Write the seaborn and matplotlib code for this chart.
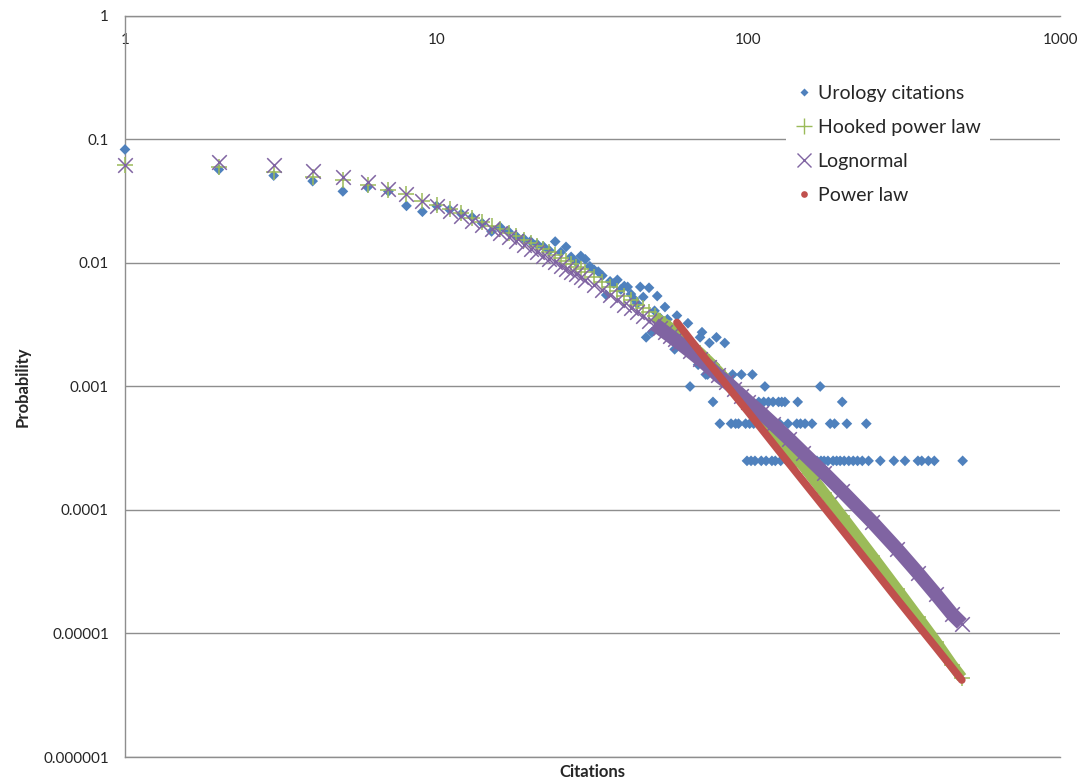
"""Urology citation distribution vs fitted models (log-log)."""

import matplotlib
matplotlib.use('Agg')
import matplotlib.pyplot as plt
import seaborn as sns
import pandas as pd
from matplotlib.lines import Line2D
from matplotlib.ticker import NullLocator

# ---- data ----
URO_X = [1, 2, 3, 4, 5, 6, 7, 8, 9, 10, 11, 12, 13, 14, 15, 16, 17, 18, 19, 20,
         21, 22, 23, 24, 25, 26, 27, 28, 29, 30, 31, 32, 33, 34, 35, 36, 37, 38, 39, 40,
         41, 42, 43, 44, 45, 46, 47, 48, 49, 50, 51, 52, 53, 54, 55, 56, 57, 58, 59, 60,
         62, 63, 64, 65, 66, 67, 68, 69, 70, 71, 72, 73, 74, 75, 77, 78, 79, 81, 82, 84,
         86, 88, 89, 90, 91, 93, 95, 96, 98, 99, 101, 102, 103, 104, 105, 107, 108, 110,
         112, 113, 114, 116, 117, 119, 120, 122, 125, 126, 127, 128, 131, 133, 134, 136,
         140, 143, 144, 145, 147, 149, 152, 153, 157, 160, 161, 166, 170, 171, 175, 180,
         183, 187, 189, 192, 197, 200, 203, 207, 210, 217, 224, 232, 239, 243, 265, 293,
         318, 350, 360, 378, 395, 487]
URO_Y = [0.083, 0.057, 0.051, 0.046, 0.038, 0.041, 0.038, 0.029, 0.026, 0.029,
         0.027, 0.025, 0.0235, 0.021, 0.018, 0.0195, 0.018, 0.0165, 0.0158, 0.015,
         0.0142, 0.0136, 0.0126, 0.0149, 0.0122, 0.0135, 0.0112, 0.0102, 0.0114, 0.0107,
         0.0094, 0.0088, 0.0085, 0.0079, 0.0055, 0.0071, 0.0068, 0.0073, 0.0061, 0.0065,
         0.0064, 0.0056, 0.0051, 0.0047, 0.0064, 0.0053, 0.0025, 0.0063, 0.00275, 0.0041,
         0.0054, 0.0036, 0.0031, 0.0044, 0.0035, 0.003, 0.0028, 0.002, 0.00375, 0.0026,
         0.0024, 0.00225, 0.00325, 0.001, 0.002, 0.00175, 0.00175, 0.0015, 0.0025, 0.00275,
         0.0015, 0.00125, 0.00125, 0.00225, 0.00075, 0.0015, 0.0025, 0.0005, 0.00125, 0.00225,
         0.001, 0.0005, 0.00125, 0.001, 0.0005, 0.0005, 0.00125, 0.00075, 0.0005, 0.00025,
         0.0005, 0.00025, 0.00125, 0.0005, 0.00025, 0.0005, 0.00075, 0.00025,
         0.00075, 0.001, 0.00025, 0.00075, 0.0005, 0.00025, 0.00075, 0.00025, 0.00075, 0.0005,
         0.00025, 0.00075, 0.00075, 0.00025, 0.0005, 0.00025,
         0.00025, 0.0005, 0.00075, 0.00025, 0.0005, 0.00025, 0.0005, 0.00025, 0.00025, 0.0005,
         0.00025, 0.00025, 0.001, 0.00025, 0.00025, 0.00025,
         0.0005, 0.00025, 0.0005, 0.00025, 0.00025, 0.00075, 0.00025, 0.0005, 0.00025, 0.00025,
         0.00025, 0.00025, 0.0005, 0.00025, 0.00025, 0.00025,
         0.00025, 0.00025, 0.00025, 0.00025, 0.00025, 0.00025]

HOOK_X = list(range(1, 31)) + [32, 34, 36, 38, 40, 42, 44, 46, 48, 50, 52, 54, 56, 58, 60,
                               65, 70, 75, 80, 85, 90, 95, 100, 110, 120, 135, 150, 175,
                               200, 250, 300, 350, 400, 450, 484]
HOOK_Y = [0.062, 0.060, 0.055, 0.050, 0.047, 0.043, 0.039, 0.036, 0.032, 0.0296,
          0.0272, 0.0252, 0.0233, 0.0216, 0.0201, 0.0188, 0.0176, 0.0165, 0.0154, 0.0145,
          0.0137, 0.0129, 0.0122, 0.0115, 0.0109, 0.0103, 0.0098, 0.0093, 0.0089, 0.0085,
          0.0077, 0.0070, 0.0064, 0.0059, 0.0054, 0.0050, 0.0046, 0.0043, 0.0040, 0.0037,
          0.0034, 0.0032, 0.0030, 0.0028, 0.0026,
          0.0022, 0.00187, 0.00158, 0.00133, 0.00113, 0.00096, 0.00083, 0.00072, 0.00055,
          0.00043, 0.00030, 0.000228, 0.000138, 8.9e-5, 4.25e-5, 2.3e-5, 1.36e-5, 8.6e-6,
          5.6e-6, 4.4e-6]

LOGN_X = HOOK_X
LOGN_Y = [0.062, 0.066, 0.062, 0.056, 0.050, 0.045, 0.040, 0.036, 0.032, 0.0290,
          0.0263, 0.0240, 0.0220, 0.0203, 0.0188, 0.0174, 0.0161, 0.0150, 0.0140, 0.0130,
          0.0122, 0.0114, 0.0107, 0.0101, 0.0095, 0.0090, 0.0085, 0.0081, 0.0077, 0.0073,
          0.0066, 0.0060, 0.0055, 0.0050, 0.0046, 0.0043, 0.0040, 0.0037, 0.0034, 0.0032,
          0.00297, 0.00276, 0.00258, 0.00241, 0.00226,
          0.00193, 0.00166, 0.00143, 0.00123, 0.00109, 0.000956, 0.000845, 0.00075, 0.00061,
          0.000498, 0.000376, 0.00029, 0.000199, 0.000142, 7.97e-5, 4.83e-5, 3.09e-5,
          2.07e-5, 1.44e-5, 1.2e-5]

POW_X = [59, 70, 80, 90, 100, 125, 150, 200, 250, 300, 350, 400, 450, 484]
POW_Y = [3.3e-3, 1.9e-3, 1.25e-3, 8.6e-4, 6.2e-4, 3.04e-4, 1.71e-4, 6.9e-5, 3.4e-5,
         1.9e-5, 1.17e-5, 7.7e-6, 5.3e-6, 4.2e-6]

X_TICKS = [1, 10, 100, 1000]
X_TICK_LABELS = ["1", "10", "100", "1000"]
Y_TICKS = [1e-6, 1e-5, 1e-4, 1e-3, 1e-2, 1e-1, 1]
Y_TICK_LABELS = ["0.000001", "0.00001", "0.0001", "0.001", "0.01", "0.1", "1"]
LABELS = ["Urology citations", "Hooked power law", "Lognormal", "Power law"]

BLUE, GREEN, PURPLE, RED = "#4F81BD", "#9BBB59", "#8064A2", "#C0504D"
GRID = "#8E8E8E"

sns.set_style("white")
plt.rcParams['font.family'] = ['Lato', 'DejaVu Sans']

uro = pd.DataFrame({"x": URO_X, "y": URO_Y})
hook = pd.DataFrame({"x": HOOK_X, "y": HOOK_Y})
logn = pd.DataFrame({"x": LOGN_X, "y": LOGN_Y})
pw = pd.DataFrame({"x": POW_X, "y": POW_Y})

fig = plt.figure(figsize=(10.85, 7.83), dpi=100)
ax = fig.add_axes([0.1152, 0.0332, 0.8618, 0.9464])
ax.set_xscale("log")
ax.set_yscale("log")

# observed data (bottom layer)
sns.scatterplot(data=uro, x="x", y="y", marker="D", s=30, color=BLUE,
                edgecolor="none", ax=ax, zorder=3, legend=False, clip_on=False)

# hooked power law: markers + dense band in the tail
sns.scatterplot(data=hook, x="x", y="y", marker="+", s=120, color=GREEN,
                linewidth=1.1, ax=ax, zorder=4, legend=False, clip_on=False)
sns.lineplot(data=hook[hook.x >= 50], x="x", y="y", color=GREEN, linewidth=8,
             estimator=None, ax=ax, zorder=4, legend=False, solid_capstyle="butt")

# lognormal
sns.scatterplot(data=logn, x="x", y="y", marker="x", s=110, color=PURPLE,
                linewidth=1.1, ax=ax, zorder=5, legend=False, clip_on=False)
sns.lineplot(data=logn[logn.x >= 50], x="x", y="y", color=PURPLE, linewidth=10,
             estimator=None, ax=ax, zorder=5, legend=False, solid_capstyle="butt")

# power law
sns.lineplot(data=pw, x="x", y="y", color=RED, linewidth=5.5, estimator=None,
             ax=ax, zorder=6, legend=False, solid_capstyle="round")

ax.set_xlim(1, 1000)
ax.set_ylim(1e-6, 1)
ax.set_xticks(X_TICKS)
ax.set_xticklabels(X_TICK_LABELS)
ax.set_yticks(Y_TICKS)
ax.set_yticklabels(Y_TICK_LABELS)
ax.xaxis.set_minor_locator(NullLocator())
ax.yaxis.set_minor_locator(NullLocator())

ax.xaxis.tick_top()
ax.tick_params(axis="x", length=0, pad=-22, labelsize=11)
ax.tick_params(axis="y", length=3.6, width=1, color=GRID, labelsize=11, pad=8)
ax.yaxis.grid(True, color=GRID, linewidth=1)
ax.xaxis.grid(False)
for side in ["left", "top", "bottom"]:
    ax.spines[side].set_color(GRID)
    ax.spines[side].set_linewidth(1)
ax.spines["right"].set_visible(False)

ax.set_xlabel("Citations", fontsize=12, fontweight="bold", labelpad=5)
ax.set_ylabel("Probability", fontsize=12, fontweight="bold", labelpad=9)

handles = [
    Line2D([], [], ls="none", marker="D", color=BLUE, ms=4.2, mec="none"),
    Line2D([], [], ls="none", marker="+", color=GREEN, ms=12, mew=1),
    Line2D([], [], ls="none", marker="x", color=PURPLE, ms=10, mew=1),
    Line2D([], [], ls="none", marker="o", color=RED, ms=4.8, mec="none"),
]
leg = ax.legend(handles, LABELS, loc="upper left", bbox_to_anchor=(0.697, 0.933),
                frameon=True, facecolor="white", edgecolor="none", framealpha=1,
                fancybox=False, fontsize=14, handlelength=0.8, handletextpad=0.3,
                labelspacing=0.87, borderpad=0.5)
leg.set_zorder(10)

fig.savefig("out.png", dpi=100)
